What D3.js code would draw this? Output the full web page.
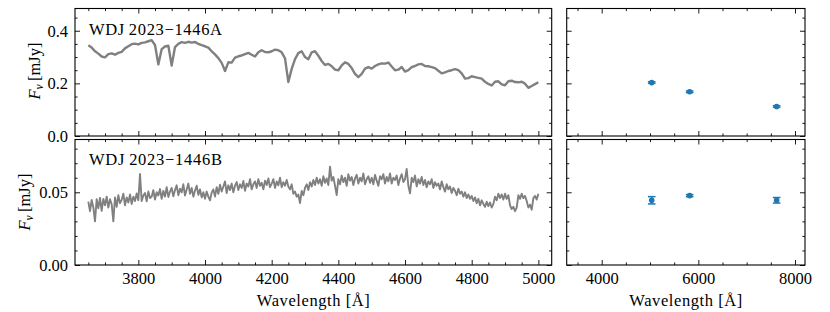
<!DOCTYPE html>
<html>
<head>
<meta charset="utf-8">
<script src="https://cdn.jsdelivr.net/npm/d3@7"></script>
<style>
  body { margin: 0; background: #fff; }
  svg text { font-family: "Liberation Serif", "DejaVu Serif", serif; fill: #000; }
</style>
</head>
<body>
<div id="chart"></div>
<script>
// wavelength grid of spectrum A (Å)
const wavesA = [
  3650, 3660, 3670, 3680, 3690,
  3700, 3710, 3720, 3730, 3740, 3750, 3760, 3770, 3780, 3790,
  3800, 3810, 3820, 3830, 3840, 3850, 3860, 3870, 3880, 3890,
  3900, 3910, 3920, 3930, 3940, 3950, 3960, 3970, 3980, 3990,
  4000, 4010, 4020, 4030, 4040, 4050, 4060, 4070, 4080, 4090,
  4100, 4110, 4120, 4130, 4140, 4150, 4160, 4170, 4180, 4190,
  4200, 4210, 4220, 4230, 4240, 4250, 4260, 4270, 4280, 4290,
  4300, 4310, 4320, 4330, 4340, 4350, 4360, 4370, 4380, 4390,
  4400, 4410, 4420, 4430, 4440, 4450, 4460, 4470, 4480, 4490,
  4500, 4510, 4520, 4530, 4540, 4550, 4560, 4570, 4580, 4590,
  4600, 4610, 4620, 4630, 4640, 4650, 4660, 4670, 4680, 4690,
  4700, 4710, 4720, 4730, 4740, 4750, 4760, 4770, 4780, 4790,
  4800, 4810, 4820, 4830, 4840, 4850, 4860, 4870, 4880, 4890,
  4900, 4910, 4920, 4930, 4940, 4950, 4960, 4970, 4980, 4990,
  5000,
];

// WDJ 2023-1446A spectrum (mJy)
const fluxA = [
  0.345, 0.336, 0.322, 0.313, 0.302,
  0.299, 0.311, 0.314, 0.309, 0.316, 0.320, 0.333, 0.341, 0.349, 0.351,
  0.348, 0.354, 0.356, 0.360, 0.364, 0.346, 0.272, 0.330, 0.340, 0.343,
  0.268, 0.338, 0.350, 0.357, 0.354, 0.358, 0.355, 0.357, 0.350, 0.345,
  0.341, 0.336, 0.322, 0.310, 0.296, 0.278, 0.247, 0.280, 0.279, 0.298,
  0.303, 0.306, 0.311, 0.316, 0.309, 0.302, 0.318, 0.326, 0.319, 0.318,
  0.322, 0.328, 0.326, 0.318, 0.295, 0.205, 0.255, 0.292, 0.315, 0.322,
  0.300, 0.292, 0.318, 0.322, 0.305, 0.285, 0.270, 0.274, 0.265, 0.252,
  0.250, 0.268, 0.280, 0.274, 0.258, 0.236, 0.224, 0.236, 0.256, 0.262,
  0.256, 0.266, 0.272, 0.276, 0.275, 0.279, 0.264, 0.250, 0.252, 0.262,
  0.245, 0.250, 0.262, 0.266, 0.272, 0.274, 0.266, 0.265, 0.262, 0.258,
  0.248, 0.238, 0.242, 0.247, 0.250, 0.254, 0.250, 0.238, 0.218, 0.220,
  0.227, 0.224, 0.221, 0.218, 0.206, 0.198, 0.192, 0.206, 0.208, 0.196,
  0.193, 0.208, 0.210, 0.205, 0.204, 0.206, 0.199, 0.183, 0.190, 0.197,
  0.204,
];

// wavelength grid of spectrum B (Å)
const wavesB = [
  3650, 3655, 3660, 3665, 3670, 3675, 3680, 3685, 3690, 3695,
  3700, 3705, 3710, 3715, 3720, 3725, 3730, 3735, 3740, 3745, 3750, 3755, 3760, 3765, 3770, 3775, 3780, 3785, 3790, 3795,
  3800, 3805, 3810, 3815, 3820, 3825, 3830, 3835, 3840, 3845, 3850, 3855, 3860, 3865, 3870, 3875, 3880, 3885, 3890, 3895,
  3900, 3905, 3910, 3915, 3920, 3925, 3930, 3935, 3940, 3945, 3950, 3955, 3960, 3965, 3970, 3975, 3980, 3985, 3990, 3995,
  4000, 4005, 4010, 4015, 4020, 4025, 4030, 4035, 4040, 4045, 4050, 4055, 4060, 4065, 4070, 4075, 4080, 4085, 4090, 4095,
  4100, 4105, 4110, 4115, 4120, 4125, 4130, 4135, 4140, 4145, 4150, 4155, 4160, 4165, 4170, 4175, 4180, 4185, 4190, 4195,
  4200, 4205, 4210, 4215, 4220, 4225, 4230, 4235, 4240, 4245, 4250, 4255, 4260, 4265, 4270, 4275, 4280, 4285, 4290, 4295,
  4300, 4305, 4310, 4315, 4320, 4325, 4330, 4335, 4340, 4345, 4350, 4355, 4360, 4365, 4370, 4375, 4380, 4385, 4390, 4395,
  4400, 4405, 4410, 4415, 4420, 4425, 4430, 4435, 4440, 4445, 4450, 4455, 4460, 4465, 4470, 4475, 4480, 4485, 4490, 4495,
  4500, 4505, 4510, 4515, 4520, 4525, 4530, 4535, 4540, 4545, 4550, 4555, 4560, 4565, 4570, 4575, 4580, 4585, 4590, 4595,
  4600, 4605, 4610, 4615, 4620, 4625, 4630, 4635, 4640, 4645, 4650, 4655, 4660, 4665, 4670, 4675, 4680, 4685, 4690, 4695,
  4700, 4705, 4710, 4715, 4720, 4725, 4730, 4735, 4740, 4745, 4750, 4755, 4760, 4765, 4770, 4775, 4780, 4785, 4790, 4795,
  4800, 4805, 4810, 4815, 4820, 4825, 4830, 4835, 4840, 4845, 4850, 4855, 4860, 4865, 4870, 4875, 4880, 4885, 4890, 4895,
  4900, 4905, 4910, 4915, 4920, 4925, 4930, 4935, 4940, 4945, 4950, 4955, 4960, 4965, 4970, 4975, 4980, 4985, 4990, 4995,
  5000,
];

// WDJ 2023-1446B spectrum (mJy)
const fluxB = [
  0.0436, 0.0370, 0.0448, 0.0395, 0.0300, 0.0452, 0.0390, 0.0462, 0.0372, 0.0455,
  0.0410, 0.0470, 0.0395, 0.0452, 0.0418, 0.0300, 0.0465, 0.0400, 0.0480, 0.0425,
  0.0448, 0.0490, 0.0410, 0.0465, 0.0430, 0.0485, 0.0420, 0.0470, 0.0440, 0.0492,
  0.0445, 0.0626, 0.0440, 0.0478, 0.0495, 0.0438, 0.0505, 0.0460, 0.0470, 0.0515,
  0.0450, 0.0500, 0.0478, 0.0522, 0.0455, 0.0510, 0.0470, 0.0535, 0.0468, 0.0505,
  0.0530, 0.0472, 0.0515, 0.0548, 0.0480, 0.0525, 0.0500, 0.0555, 0.0478, 0.0520,
  0.0560, 0.0490, 0.0530, 0.0470, 0.0512, 0.0545, 0.0482, 0.0520, 0.0465, 0.0500,
  0.0455, 0.0505, 0.0470, 0.0445, 0.0498, 0.0520, 0.0470, 0.0535, 0.0490, 0.0552,
  0.0505, 0.0540, 0.0575, 0.0495, 0.0548, 0.0515, 0.0560, 0.0500, 0.0545, 0.0570,
  0.0515, 0.0555, 0.0530, 0.0578, 0.0510, 0.0560, 0.0540, 0.0590, 0.0520, 0.0555,
  0.0575, 0.0530, 0.0590, 0.0545, 0.0565, 0.0520, 0.0580, 0.0550, 0.0595, 0.0535,
  0.0560, 0.0590, 0.0530, 0.0575, 0.0548, 0.0600, 0.0535, 0.0570, 0.0545, 0.0585,
  0.0540, 0.0520, 0.0555, 0.0490, 0.0505, 0.0470, 0.0485, 0.0426, 0.0510, 0.0480,
  0.0530, 0.0555, 0.0515, 0.0570, 0.0540, 0.0585, 0.0550, 0.0600, 0.0560, 0.0590,
  0.0545, 0.0610, 0.0565, 0.0595, 0.0550, 0.0676, 0.0580, 0.0605, 0.0545, 0.0481,
  0.0590, 0.0555, 0.0615, 0.0570, 0.0600, 0.0545, 0.0625, 0.0580, 0.0605, 0.0550,
  0.0595, 0.0620, 0.0560, 0.0600, 0.0575, 0.0630, 0.0555, 0.0590, 0.0610, 0.0565,
  0.0600, 0.0555, 0.0620, 0.0580, 0.0545, 0.0610, 0.0590, 0.0625, 0.0560, 0.0605,
  0.0575, 0.0630, 0.0560, 0.0600, 0.0585, 0.0615, 0.0550, 0.0595, 0.0625, 0.0570,
  0.0590, 0.0660, 0.0545, 0.0493, 0.0600, 0.0570, 0.0615, 0.0540, 0.0590, 0.0560,
  0.0605, 0.0550, 0.0585, 0.0535, 0.0575, 0.0555, 0.0590, 0.0530, 0.0570, 0.0545,
  0.0560, 0.0520, 0.0575, 0.0535, 0.0505, 0.0555, 0.0520, 0.0540, 0.0495, 0.0530,
  0.0510, 0.0480, 0.0525, 0.0490, 0.0505, 0.0470, 0.0500, 0.0460, 0.0485, 0.0455,
  0.0475, 0.0440, 0.0465, 0.0425, 0.0455, 0.0410, 0.0445, 0.0420, 0.0400, 0.0435,
  0.0405, 0.0430, 0.0395, 0.0420, 0.0470, 0.0445, 0.0490, 0.0460, 0.0485, 0.0450,
  0.0490, 0.0455, 0.0480, 0.0410, 0.0385, 0.0400, 0.0370, 0.0395, 0.0480, 0.0455,
  0.0490, 0.0460, 0.0475, 0.0440, 0.0395, 0.0415, 0.0380, 0.0460, 0.0475, 0.0450,
  0.0490,
];

// photometry
const photWave = [5035, 5820, 7620];
const photA = [0.203, 0.168, 0.112];
const photAErr = [0.003, 0.003, 0.003];
const photB = [0.0445, 0.0477, 0.0445];
const photBErr = [0.0025, 0.0007, 0.0019];

const specMajor = [3800, 4000, 4200, 4400, 4600, 4800, 5000];
const specMinor = [3650, 3700, 3750, 3850, 3900, 3950, 4050, 4100, 4150, 4250, 4300, 4350,
  4450, 4500, 4550, 4650, 4700, 4750, 4850, 4900, 4950];
const photMajor = [4000, 6000, 8000];
const photMinor = [3500, 4500, 5000, 5500, 6500, 7000, 7500];
const yAMajor = [0, 0.2, 0.4];
const yAMinor = [0.05, 0.1, 0.15, 0.25, 0.3, 0.35, 0.45];
const yBMajor = [0, 0.05];
const yBMinor = [0.01, 0.02, 0.03, 0.04, 0.06, 0.07, 0.08];

const names = ['WDJ\u20092023\u22121446A', 'WDJ\u20092023\u22121446B'];

const serif = '"Liberation Serif", "DejaVu Serif", serif';

const svg = d3.select('#chart').append('svg')
  .attr('width', 830)
  .attr('height', 312)
  .attr('font-family', serif);

const leftBox = { x0: 75, x1: 551.7 };
const rightBox = { x0: 566.7, x1: 805 };
const topBox = { y0: 8.5, y1: 136 };
const botBox = { y0: 139.5, y1: 265 };

const xSpec = d3.scaleLinear().domain([3610, 5040]).range([leftBox.x0, leftBox.x1]);
const xPhot = d3.scaleLinear().domain([3276, 8207]).range([rightBox.x0, rightBox.x1]);
const yA = d3.scaleLinear().domain([0, 0.4845]).range([topBox.y1, topBox.y0]);
const yB = d3.scaleLinear().domain([0, 0.0863]).range([botBox.y1, botBox.y0]);

const fs = 16.5;

const styleAxis = (a) => {
  a.attr('font-family', serif).attr('font-size', fs);
  a.select('.domain').remove();
  a.selectAll('line').attr('stroke', '#000').attr('stroke-width', 0.9);
  a.selectAll('text').attr('fill', '#000');
};

// draws frame + inward ticks on all four sides
function drawPanel(x, y, xb, yb, xMajor, xMinor, yMajor, yMinor, xLab, yLab, yFmt) {
  const g = svg.append('g');
  const sides = [
    [d3.axisBottom, x, xMajor, xMinor, `translate(0,${yb.y1})`, xLab, d3.format('d')],
    [d3.axisTop, x, xMajor, xMinor, `translate(0,${yb.y0})`, false, null],
    [d3.axisLeft, y, yMajor, yMinor, `translate(${xb.x0},0)`, yLab, yFmt],
    [d3.axisRight, y, yMajor, yMinor, `translate(${xb.x1},0)`, false, null],
  ];
  sides.forEach(([fn, sc, maj, min, tr, lab, fmt]) => {
    g.append('g').attr('transform', tr)
      .call(fn(sc).tickValues(maj).tickSizeInner(-5).tickSizeOuter(0).tickPadding(7)
        .tickFormat(lab ? fmt : () => ''))
      .call(styleAxis);
    g.append('g').attr('transform', tr)
      .call(fn(sc).tickValues(min).tickSizeInner(-2.6).tickSizeOuter(0).tickFormat(() => ''))
      .call(styleAxis);
  });
  g.append('rect')
    .attr('x', xb.x0).attr('y', yb.y0)
    .attr('width', xb.x1 - xb.x0).attr('height', yb.y1 - yb.y0)
    .attr('fill', 'none').attr('stroke', '#000').attr('stroke-width', 1.1);
  return g;
}

const fmt1 = d3.format('.1f');
const fmt2 = d3.format('.2f');

// spectra
const line = (waves, y) => d3.line().x((d, i) => xSpec(waves[i])).y((d) => y(d));

svg.append('path').datum(fluxA)
  .attr('d', line(wavesA, yA))
  .attr('fill', 'none').attr('stroke', 'grey').attr('stroke-width', 2.4)
  .attr('stroke-linejoin', 'round');

svg.append('path').datum(fluxB)
  .attr('d', line(wavesB, yB))
  .attr('fill', 'none').attr('stroke', 'grey').attr('stroke-width', 1.9)
  .attr('stroke-linejoin', 'round');

// photometry with error bars
const drawPhot = (y, vals, errs) => {
  const g = svg.append('g').attr('stroke', '#1f77b4').attr('fill', '#1f77b4');
  photWave.forEach((w, i) => {
    const cx = xPhot(w);
    const lo = y(vals[i] - errs[i]);
    const hi = y(vals[i] + errs[i]);
    g.append('line').attr('x1', cx).attr('x2', cx).attr('y1', lo).attr('y2', hi).attr('stroke-width', 1.5);
    g.append('line').attr('x1', cx - 3.8).attr('x2', cx + 3.8).attr('y1', lo).attr('y2', lo).attr('stroke-width', 1.5);
    g.append('line').attr('x1', cx - 3.8).attr('x2', cx + 3.8).attr('y1', hi).attr('y2', hi).attr('stroke-width', 1.5);
    g.append('circle').attr('cx', cx).attr('cy', y(vals[i])).attr('r', 2.8).attr('stroke', 'none');
  });
};
drawPhot(yA, photA, photAErr);
drawPhot(yB, photB, photBErr);

drawPanel(xSpec, yA, leftBox, topBox, specMajor, specMinor, yAMajor, yAMinor, false, true, fmt1);
drawPanel(xSpec, yB, leftBox, botBox, specMajor, specMinor, yBMajor, yBMinor, true, true, fmt2);
drawPanel(xPhot, yA, rightBox, topBox, photMajor, photMinor, yAMajor, yAMinor, false, false, null);
drawPanel(xPhot, yB, rightBox, botBox, photMajor, photMinor, yBMajor, yBMinor, true, false, null);

// object names
svg.append('text').attr('x', 89).attr('y', 35).attr('font-size', fs)
  .attr('textLength', 133).attr('lengthAdjust', 'spacing').text(names[0]);
svg.append('text').attr('x', 89).attr('y', 165).attr('font-size', fs)
  .attr('textLength', 133).attr('lengthAdjust', 'spacing').text(names[1]);

// y labels
const yLabel = (x, y) => {
  const t = svg.append('text')
    .attr('transform', `translate(${x},${y}) rotate(-90)`)
    .attr('text-anchor', 'middle')
    .attr('font-size', fs);
  t.append('tspan').attr('font-style', 'italic').text('F');
  t.append('tspan').attr('font-style', 'italic').attr('font-size', 11.5).attr('dy', 3).text('ν');
  t.append('tspan').attr('dy', -3).text('\u2009[mJy]');
};
yLabel(40, 71);
yLabel(30, 202);

// x labels
[leftBox, rightBox].forEach((b) => {
  svg.append('text').attr('x', (b.x0 + b.x1) / 2 - 56.5).attr('y', 306)
    .attr('font-size', fs).attr('textLength', 113).attr('lengthAdjust', 'spacing')
    .text('Wavelength [Å]');
});
</script>
</body>
</html>
